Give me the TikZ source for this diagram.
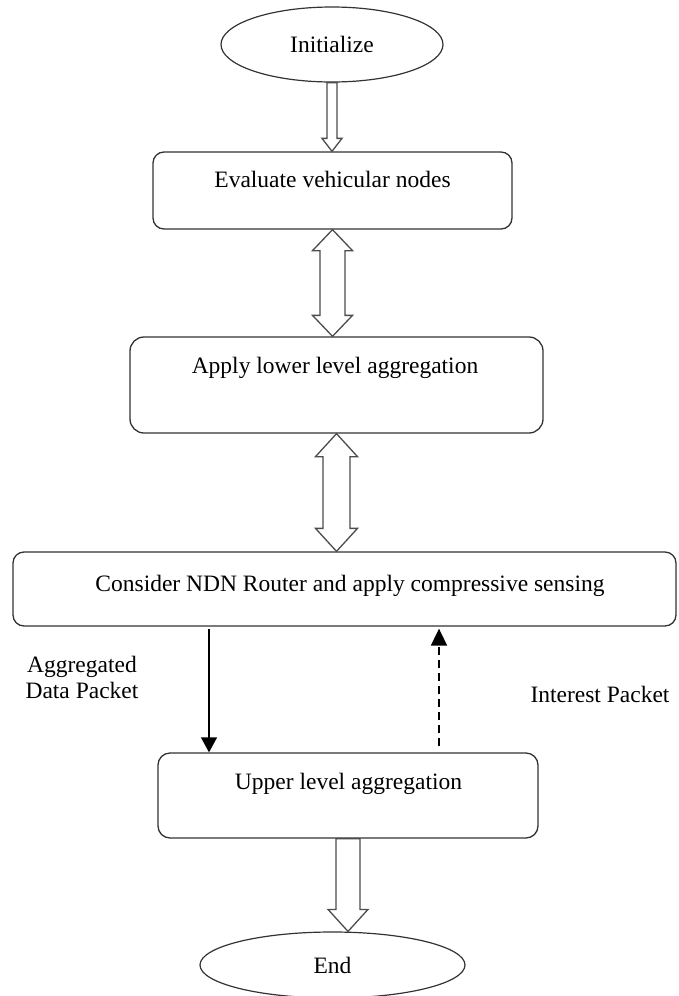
\documentclass[tikz,border=0pt]{standalone}
\usepackage{fontspec}
\setmainfont{Liberation Serif}
\usetikzlibrary{arrows.meta,calc,shapes.geometric}
\tikzset{
  stepbox/.style={draw=black!80, line width=1.3pt, rounded corners=11pt, inner sep=0pt},
  oval/.style={ellipse, draw=black!80, line width=1.2pt, inner sep=0pt, font=\fontsize{23.5}{26}\selectfont},
  lbl/.style={anchor=base, inner sep=0pt, font=\fontsize{23.5}{26}\selectfont, align=center},
  hollow/.style={draw=black!70, line width=1.3pt, fill=white, line join=miter},
  solidarrow/.style={draw=black, line width=1.3pt, -{Triangle[length=15pt,width=16pt]}},
  dasharrow/.style={draw=black, line width=1.8pt, dash pattern=on 8pt off 5pt, -{Triangle[length=17pt,width=16pt]}},
}
% single hollow block arrow: from, to, stem half width, head half width, head length
\newcommand\blockdown[5]{%
  \path[hollow] let \p1=(#1), \p2=(#2) in
    (\x1,\y2) -- (\x1+#4,\y2+#5) -- (\x1+#3,\y2+#5) -- (\x1+#3,\y1) -- (\x1-#3,\y1)
    -- (\x1-#3,\y2+#5) -- (\x1-#4,\y2+#5) -- cycle;}
% double hollow block arrow: top, bottom, stem half width, head half width, head length
\newcommand\blockboth[5]{%
  \path[hollow] let \p1=(#1), \p2=(#2) in
    (\x1,\y1) -- (\x1+#4,\y1-#5) -- (\x1+#3,\y1-#5) -- (\x1+#3,\y2+#5) -- (\x1+#4,\y2+#5)
    -- (\x1,\y2) -- (\x1-#4,\y2+#5) -- (\x1-#3,\y2+#5) -- (\x1-#3,\y1-#5) -- (\x1-#4,\y1-#5) -- cycle;}
\begin{document}
\begin{tikzpicture}[x=1pt,y=-1pt]
\useasboundingbox (0,0) rectangle (678,996);

% nodes
\node[oval, minimum width=222pt, minimum height=75pt] (init) at (332,44.5) {Initialize};
\node[stepbox, minimum width=359pt, minimum height=77pt] (eval) at (332.5,190.5) {};
\node[lbl] at (332.5,187) {Evaluate vehicular nodes};
\node[stepbox, minimum width=413pt, minimum height=96pt, rounded corners=14pt] (apply) at (336.5,385) {};
\node[lbl] at (335,373) {Apply lower level aggregation};
\node[stepbox, minimum width=663pt, minimum height=74pt] (ndn) at (344.5,589) {};
\node[lbl] at (350,591) {Consider NDN Router and apply compressive sensing};
\node[stepbox, minimum width=380pt, minimum height=85pt, rounded corners=12pt] (upper) at (348,795.5) {};
\node[lbl] at (348.5,789) {Upper level aggregation};
\node[oval, minimum width=265pt, minimum height=66pt] (end) at (332.5,965) {End};

\node[lbl] (aggl) at (82,698) {Aggregated\\Data Packet};
\node[lbl] (intl) at (600,702) {Interest Packet};

% hollow block arrows
\blockdown{init.south}{eval.north}{5pt}{10pt}{13pt}
\blockboth{eval.south}{apply.north}{12.5pt}{20pt}{21pt}
\blockboth{apply.south}{ndn.north}{13.5pt}{21pt}{23pt}
\blockdown{upper.south}{end.north}{12pt}{20pt}{22pt}

% packet arrows
\coordinate (da) at (209,0);
\coordinate (ia) at (439,0);
\draw[solidarrow] ($(da |- ndn.south)+(0,2)$) -- (da |- upper.north);
\draw[dasharrow] ($(ia |- upper.north)+(0,-6)$) -- ($(ia |- ndn.south)+(0,2)$);
\end{tikzpicture}
\end{document}
